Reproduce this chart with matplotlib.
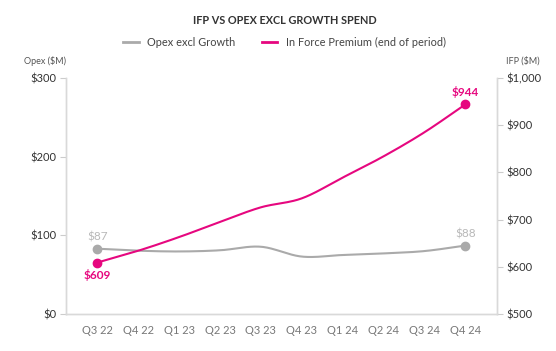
import matplotlib
matplotlib.use("Agg")
import matplotlib.pyplot as plt
from matplotlib.lines import Line2D
import numpy as np

plt.rcParams["font.family"] = ["Lato", "DejaVu Sans"]

quarters = ["Q3 22", "Q4 22", "Q1 23", "Q2 23", "Q3 23", "Q4 23", "Q1 24", "Q2 24", "Q3 24", "Q4 24"]
opex = [83, 80.5, 79.5, 81, 85.5, 73, 75, 77, 80, 87]
ifp = [609, 634, 663, 695, 726, 745, 789, 834, 885, 944]
opex_labels = ["$87", "$88"]
ifp_labels = ["$609", "$944"]

PINK = "#e6077f"
GREY = "#aaaaaa"


def smooth(y, n=20):
    # catmull-rom so the lines curve through the points like the original
    y = np.asarray(y, dtype=float)
    p = np.concatenate([[2 * y[0] - y[1]], y, [2 * y[-1] - y[-2]]])
    xs, ys = [], []
    for i in range(len(y) - 1):
        t = np.linspace(0, 1, n, endpoint=False)
        p0, p1, p2, p3 = p[i], p[i + 1], p[i + 2], p[i + 3]
        seg = 0.5 * ((2 * p1) + (-p0 + p2) * t + (2 * p0 - 5 * p1 + 4 * p2 - p3) * t ** 2
                     + (-p0 + 3 * p1 - 3 * p2 + p3) * t ** 3)
        xs.append(i + t)
        ys.append(seg)
    xs.append([len(y) - 1])
    ys.append([y[-1]])
    return np.concatenate(xs), np.concatenate(ys)


fig = plt.figure(figsize=(5.56, 3.51), dpi=100)
ax = fig.add_axes([0.1187, 0.1054, 0.7752, 0.6724])
ax2 = ax.twinx()

x = np.arange(len(quarters))
sx, sy = smooth(opex)
ax.plot(sx, sy, color=GREY, lw=1.5)
ax.plot([x[0], x[-1]], [opex[0], opex[-1]], "o", color=GREY, ms=6)
ax.annotate(opex_labels[0], (x[0], opex[0]), xytext=(0, 4.5), textcoords="offset points",
            ha="center", va="bottom", color="#b8b8b8", fontsize=8.5)
ax.annotate(opex_labels[1], (x[-1], opex[-1]), xytext=(0, 4.5), textcoords="offset points",
            ha="center", va="bottom", color="#b8b8b8", fontsize=8.5)

sx, sy = smooth(ifp)
ax2.plot(sx, sy, color=PINK, lw=1.5)
ax2.plot([x[0], x[-1]], [ifp[0], ifp[-1]], "o", color=PINK, ms=6)
ax2.annotate(ifp_labels[0], (x[0], ifp[0]), xytext=(0, -4.5), textcoords="offset points",
             ha="center", va="top", color=PINK, fontsize=8.5, fontweight="bold")
ax2.annotate(ifp_labels[1], (x[-1], ifp[-1]), xytext=(0, 4.5), textcoords="offset points",
             ha="center", va="bottom", color=PINK, fontsize=8.5, fontweight="bold")

ax.set_xlim(-0.766, 9.775)
ax.set_ylim(0, 300)
ax2.set_ylim(500, 1000)
ax.set_xticks(x)
ax.set_xticklabels(quarters)
ax.set_yticks([0, 100, 200, 300])
ax.set_yticklabels(["$0", "$100", "$200", "$300"])
ax2.set_yticks([500, 600, 700, 800, 900, 1000])
ax2.set_yticklabels(["$500", "$600", "$700", "$800", "$900", "$1,000"])

for a in (ax, ax2):
    for s in a.spines.values():
        s.set_color("#d9d9d9")
        s.set_linewidth(1)
    a.spines["top"].set_visible(False)
    a.tick_params(axis="y", length=4, color="#cccccc", labelsize=8, labelcolor="#333333", pad=3)
ax.tick_params(axis="x", length=0, labelsize=8, labelcolor="#777777", pad=8)

fig.text(0.512, 0.943, "IFP VS OPEX EXCL GROWTH SPEND", ha="center", va="center",
         fontsize=7.8, fontweight="bold", color="#333333")
handles = [Line2D([], [], color=GREY, lw=2), Line2D([], [], color=PINK, lw=2)]
fig.legend(handles, ["Opex excl Growth", "In Force Premium (end of period)"], loc="center",
           bbox_to_anchor=(0.512, 0.88), ncol=2, frameon=False, fontsize=7.9,
           handlelength=1.4, columnspacing=2.4, labelcolor="#444444")
fig.text(0.081, 0.826, "Opex ($M)", ha="center", va="center", fontsize=6.5, color="#555555")
fig.text(0.94, 0.826, "IFP ($M)", ha="center", va="center", fontsize=6.5, color="#555555")

fig.savefig("out.png", dpi=100)
